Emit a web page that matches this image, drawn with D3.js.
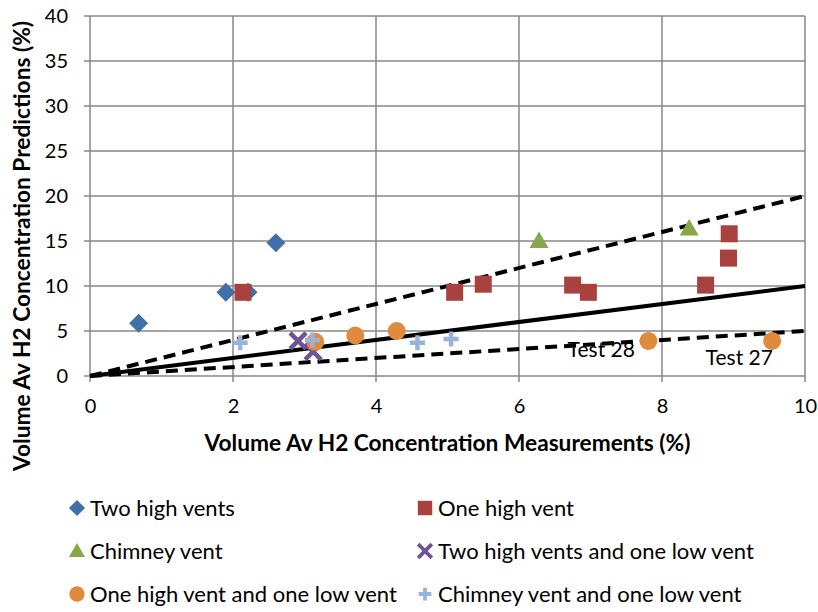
<!DOCTYPE html>
<html>
<head>
<meta charset="utf-8">
<script src="https://cdn.jsdelivr.net/npm/d3@7"></script>
<style>
  html, body { margin: 0; padding: 0; background: #fff; }
  svg { display: block; font-family: Lato, "Open Sans", sans-serif; }
</style>
</head>
<body>
<svg id="chart" width="818" height="612"></svg>
<script>
// Series: measured (x) vs predicted (y) volume-averaged H2 concentration, %
const twoHighVents = [[0.68, 5.85], [1.90, 9.3], [2.21, 9.3], [2.60, 14.8]];
const oneHighVent = [[2.14, 9.3], [5.10, 9.3], [5.50, 10.2], [6.75, 10.1], [6.97, 9.3], [8.61, 10.1], [8.93, 13.1], [8.94, 15.8]];
const chimneyVent = [[6.28, 15.0], [8.38, 16.4]];
const twoHighOneLow = [[2.91, 3.9], [3.12, 2.7]];
const oneHighOneLow = [[3.15, 3.8], [3.71, 4.5], [4.29, 5.0], [7.81, 3.9], [9.54, 3.9]];
const chimneyOneLow = [[2.10, 3.7], [3.11, 4.0], [4.58, 3.7], [5.05, 4.1]];

const seriesNames = ["Two high vents", "One high vent", "Chimney vent",
  "Two high vents and one low vent", "One high vent and one low vent", "Chimney vent and one low vent"];

// Reference lines y = k·x
const lineSlopes = [1, 2, 0.5];
const lineDashed = [false, true, true];

const xTicks = [0, 2, 4, 6, 8, 10];
const yTicks = [0, 5, 10, 15, 20, 25, 30, 35, 40];

const annotations = [{ text: "Test 28", x: 6.68, y: 2.1 }, { text: "Test 27", x: 8.61, y: 1.22 }];

const xTitle = "Volume Av H2 Concentration Measurements (%)";
const yTitle = "Volume Av H2 Concentration Predictions (%)";

const svg = d3.select("#chart");
const plotLeft = 90, plotRight = 805, plotTop = 16, plotBottom = 376;

const x = d3.scaleLinear().domain([0, 10]).range([plotLeft, plotRight]);
const y = d3.scaleLinear().domain([0, 40]).range([plotBottom, plotTop]);

const gridColor = "#878787";

// Gridlines
svg.append("g").selectAll("line").data(yTicks).join("line")
  .attr("x1", plotLeft - 6).attr("x2", plotRight)
  .attr("y1", d => y(d)).attr("y2", d => y(d))
  .attr("stroke", gridColor).attr("stroke-width", 1.5);
svg.append("g").selectAll("line").data(xTicks).join("line")
  .attr("x1", d => x(d)).attr("x2", d => x(d))
  .attr("y1", plotTop).attr("y2", plotBottom + 6)
  .attr("stroke", gridColor).attr("stroke-width", 1.5);

// Axes (labels only; lines come from the grid)
const yAxis = svg.append("g").attr("transform", `translate(${plotLeft},0)`)
  .call(d3.axisLeft(y).tickValues(yTicks).tickSize(0).tickPadding(22));
const xAxis = svg.append("g").attr("transform", `translate(0,${plotBottom})`)
  .call(d3.axisBottom(x).tickValues(xTicks).tickSize(0).tickPadding(23));
[yAxis, xAxis].forEach(a => {
  a.select(".domain").remove();
  a.selectAll("text").attr("font-size", 20).attr("fill", "#000")
    .attr("font-family", "Lato, sans-serif");
});

// Reference lines
svg.append("g").selectAll("line").data(lineSlopes).join("line")
  .attr("x1", x(0)).attr("y1", y(0))
  .attr("x2", x(10)).attr("y2", d => y(10 * d))
  .attr("stroke", "#000").attr("stroke-width", 4)
  .attr("stroke-dasharray", (d, i) => lineDashed[i] ? "12,7" : null);

// Marker definitions
const colors = ["#4070AA", "#A9423F", "#86A84B", "#6E5495", "#E08A3D", "#99B4DA"];
const symbols = [
  g => g.append("path").attr("d", "M0,-9.5L9.5,0L0,9.5L-9.5,0Z"),
  g => g.append("rect").attr("x", -8.5).attr("y", -8.5).attr("width", 17).attr("height", 17),
  g => g.append("path").attr("d", "M0,-9.5L9.5,7L-9.5,7Z"),
  g => g.append("path").attr("d", "M-8,-8L8,8M8,-8L-8,8").attr("stroke-width", 4.5).attr("fill", "none"),
  g => g.append("circle").attr("r", 9),
  g => g.append("path").attr("d", "M-7.5,0H7.5M0,-7.5V7.5").attr("stroke-width", 4.5).attr("fill", "none")
];
const strokeSym = [false, false, false, true, false, true];

function drawMarker(g, i) {
  const el = symbols[i](g);
  if (strokeSym[i]) el.attr("stroke", colors[i]);
  else el.attr("fill", colors[i]);
  return el;
}

const allSeries = [twoHighVents, oneHighVent, chimneyVent, twoHighOneLow, oneHighOneLow, chimneyOneLow];
allSeries.forEach((data, i) => {
  svg.append("g").selectAll("g").data(data).join("g")
    .attr("transform", d => `translate(${x(d[0])},${y(d[1])})`)
    .each(function () { drawMarker(d3.select(this), i); });
});

// Annotations
svg.append("g").selectAll("text").data(annotations).join("text")
  .attr("x", d => x(d.x)).attr("y", d => y(d.y))
  .attr("font-size", 21).attr("fill", "#000")
  .text(d => d.text);

// Axis titles
svg.append("text").attr("x", (plotLeft + plotRight) / 2).attr("y", 451)
  .attr("text-anchor", "middle").attr("font-size", 22.7).attr("font-weight", "bold")
  .text(xTitle);
svg.append("text").attr("transform", "translate(30,246) rotate(-90)")
  .attr("text-anchor", "middle").attr("font-size", 22.7).attr("font-weight", "bold")
  .text(yTitle);

// Legend
const legendPos = [[77, 508], [425, 508], [77, 551], [425, 551], [77, 594], [425, 594]];
seriesNames.forEach((name, i) => {
  const g = svg.append("g").attr("transform", `translate(${legendPos[i][0]},${legendPos[i][1]})`);
  const m = g.append("g").attr("transform", "scale(0.85)");
  drawMarker(m, i);
  g.append("text").attr("x", 13).attr("y", 0).attr("dy", "0.35em")
    .attr("font-size", 22).attr("fill", "#000").text(name);
});
</script>
</body>
</html>
